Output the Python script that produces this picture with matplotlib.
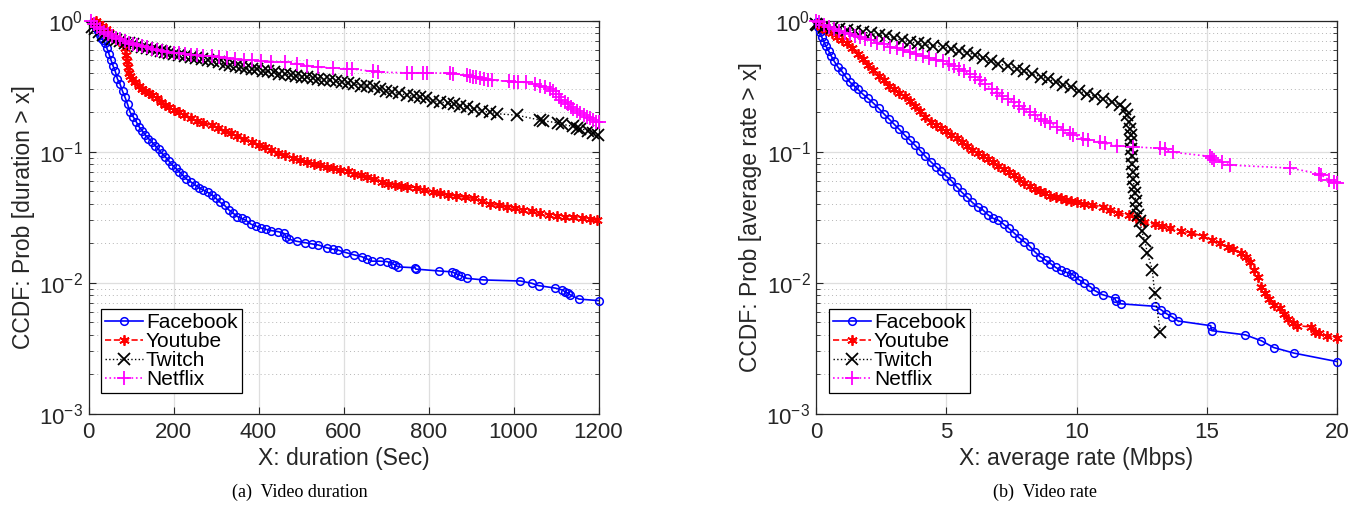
import matplotlib
matplotlib.use("Agg")
import matplotlib.pyplot as plt
from matplotlib.ticker import LogLocator, FixedLocator

plt.rcParams['font.family'] = ['Liberation Sans', 'DejaVu Sans']
plt.rcParams['mathtext.fontset'] = 'custom'
plt.rcParams['mathtext.rm'] = 'Liberation Sans'
plt.rcParams['mathtext.it'] = 'Liberation Sans:italic'
plt.rcParams['mathtext.bf'] = 'Liberation Sans:bold'

# ---------------- data: (a) video duration ----------------
dur_fb_x = [10, 14, 18, 22, 26, 30, 34, 38, 43, 48, 53, 58, 63, 68, 74, 80, 86, 92, 98, 105, 112, 119, 126, 133,
            141, 149, 157, 165, 173, 181, 189, 197, 205, 214, 222, 230, 240, 250, 260, 270, 280, 290, 300, 310,
            320, 330, 340, 350, 360, 370, 382, 395, 405, 418, 430, 447, 460, 465, 471, 490, 510, 525, 541, 560,
            575, 588, 605, 625, 643, 655, 667, 685, 702, 715, 722, 729, 769, 770, 824, 855, 863, 870, 877, 890,
            929, 1016, 1043, 1059, 1098, 1115, 1122, 1128, 1133, 1154, 1200]
dur_fb_p = [0.97, 0.93, 0.88, 0.83, 0.78, 0.74, 0.71, 0.68, 0.62, 0.56, 0.50, 0.45, 0.41, 0.36, 0.33, 0.29, 0.26,
            0.23, 0.20, 0.185, 0.170, 0.155, 0.145, 0.135, 0.126, 0.119, 0.111, 0.104, 0.097, 0.091, 0.085, 0.079,
            0.075, 0.070, 0.066, 0.062, 0.059, 0.056, 0.053, 0.051, 0.049, 0.047, 0.044, 0.041, 0.039, 0.036,
            0.034, 0.032, 0.031, 0.030, 0.028, 0.027, 0.0262, 0.0255, 0.0250, 0.0245, 0.0238, 0.0225, 0.0215,
            0.0207, 0.0202, 0.0198, 0.0194, 0.0185, 0.0180, 0.0177, 0.0170, 0.0163, 0.0158, 0.0152, 0.0146,
            0.0146, 0.0145, 0.0140, 0.0136, 0.0132, 0.0130, 0.0127, 0.0123, 0.0121, 0.0118, 0.0115, 0.0113,
            0.0108, 0.0105, 0.0103, 0.0099, 0.0095, 0.0091, 0.0088, 0.0085, 0.0083, 0.0081, 0.0075, 0.0073]

dur_yt_x = [18, 25, 32, 40, 48, 56, 64, 72, 80, 86, 88, 90, 92, 95, 98, 102, 110, 118, 126, 134, 142, 150, 160,
            170, 180, 190, 200, 212, 225, 240, 255, 270, 290, 305, 320, 335, 350, 367, 384, 400, 415, 430, 447,
            463, 480, 497, 515, 530, 545, 560, 575, 592, 610, 625, 640, 655, 671, 690, 705, 720, 735, 750, 770,
            790, 810, 827, 845, 865, 885, 906, 925, 945, 965, 984, 1003, 1023, 1043, 1063, 1083, 1103, 1122,
            1141, 1160, 1180, 1196]
dur_yt_p = [1.0, 0.95, 0.91, 0.87, 0.82, 0.78, 0.74, 0.70, 0.67, 0.62, 0.55, 0.49, 0.44, 0.40, 0.38, 0.36, 0.34,
            0.32, 0.30, 0.29, 0.28, 0.27, 0.255, 0.24, 0.228, 0.218, 0.208, 0.20, 0.19, 0.18, 0.172, 0.166, 0.16,
            0.152, 0.145, 0.138, 0.131, 0.125, 0.119, 0.113, 0.108, 0.103, 0.098, 0.094, 0.090, 0.086, 0.083,
            0.080, 0.079, 0.077, 0.075, 0.073, 0.071, 0.068, 0.066, 0.064, 0.062, 0.059, 0.057, 0.056, 0.055,
            0.054, 0.053, 0.051, 0.049, 0.048, 0.047, 0.046, 0.045, 0.044, 0.042, 0.040, 0.039, 0.038, 0.037,
            0.036, 0.035, 0.034, 0.033, 0.0325, 0.032, 0.032, 0.031, 0.0305, 0.030]

dur_tw_x = [8, 15, 25, 35, 45, 55, 65, 75, 85, 95, 105, 115, 125, 137, 149, 160, 170, 180, 190, 200, 213, 227,
            240, 253, 266, 280, 293, 306, 320, 333, 346, 358, 371, 384, 397, 410, 423, 436, 449, 463, 476, 489,
            502, 515, 528, 541, 555, 568, 582, 596, 610, 625, 640, 655, 671, 685, 700, 715, 730, 749, 765, 780,
            795, 810, 827, 845, 860, 875, 890, 906, 925, 945, 961, 1008, 1063, 1070, 1105, 1115, 1140, 1150,
            1157, 1175, 1188, 1198]
dur_tw_p = [0.90, 0.86, 0.82, 0.78, 0.75, 0.73, 0.71, 0.70, 0.68, 0.67, 0.66, 0.645, 0.635, 0.62, 0.61, 0.60,
            0.59, 0.58, 0.57, 0.56, 0.55, 0.54, 0.53, 0.52, 0.51, 0.50, 0.49, 0.48, 0.47, 0.46, 0.45, 0.44,
            0.435, 0.43, 0.425, 0.415, 0.41, 0.405, 0.395, 0.39, 0.385, 0.38, 0.375, 0.37, 0.365, 0.36, 0.355,
            0.35, 0.345, 0.34, 0.335, 0.33, 0.32, 0.315, 0.31, 0.30, 0.29, 0.285, 0.28, 0.27, 0.265, 0.26,
            0.255, 0.245, 0.24, 0.235, 0.23, 0.225, 0.22, 0.213, 0.205, 0.20, 0.195, 0.19, 0.174, 0.172, 0.166,
            0.162, 0.156, 0.152, 0.150, 0.145, 0.138, 0.135]

dur_nf_x = [5, 12, 20, 28, 36, 45, 55, 65, 75, 85, 95, 105, 115, 125, 137, 149, 160, 172, 185, 200, 213, 227,
            240, 255, 270, 290, 306, 325, 345, 365, 384, 405, 430, 463, 490, 515, 541, 575, 608, 620, 670, 682,
            750, 760, 787, 797, 850, 858, 890, 897, 905, 912, 920, 930, 940, 950, 990, 1000, 1010, 1030, 1050,
            1063, 1075, 1086, 1094, 1100, 1106, 1112, 1120, 1128, 1135, 1141, 1150, 1157, 1165, 1173, 1180,
            1188, 1195, 1200]
dur_nf_p = [1.0, 0.95, 0.90, 0.86, 0.82, 0.79, 0.76, 0.74, 0.72, 0.70, 0.68, 0.665, 0.65, 0.64, 0.625, 0.61,
            0.60, 0.59, 0.58, 0.57, 0.565, 0.56, 0.55, 0.545, 0.54, 0.535, 0.527, 0.52, 0.51, 0.505, 0.497,
            0.49, 0.487, 0.483, 0.47, 0.455, 0.442, 0.435, 0.43, 0.428, 0.41, 0.405, 0.40, 0.40, 0.40, 0.40,
            0.397, 0.394, 0.385, 0.38, 0.375, 0.37, 0.365, 0.36, 0.355, 0.35, 0.345, 0.342, 0.34, 0.338, 0.33,
            0.32, 0.31, 0.30, 0.29, 0.275, 0.26, 0.25, 0.24, 0.23, 0.22, 0.213, 0.205, 0.198, 0.19, 0.185,
            0.18, 0.175, 0.17, 0.168]

# ---------------- data: (b) video rate ----------------
rate_fb_x = [0.02, 0.08, 0.15, 0.22, 0.30, 0.38, 0.48, 0.58, 0.70, 0.85, 1.00, 1.15, 1.30, 1.45, 1.60, 1.80,
             2.00, 2.20, 2.40, 2.60, 2.80, 3.00, 3.20, 3.40, 3.60, 3.80, 4.00, 4.20, 4.40, 4.60, 4.80, 5.00,
             5.20, 5.40, 5.60, 5.80, 6.00, 6.20, 6.40, 6.60, 6.80, 7.00, 7.20, 7.40, 7.60, 7.80, 8.00, 8.20,
             8.40, 8.60, 8.81, 9.00, 9.20, 9.40, 9.60, 9.80, 9.91, 10.10, 10.30, 10.53, 10.70, 11.00, 11.47,
             11.50, 11.70, 13.03, 13.25, 13.45, 13.66, 13.90, 15.15, 15.20, 16.48, 17.10, 17.57, 18.35, 20.00]
rate_fb_p = [0.97, 0.90, 0.82, 0.75, 0.69, 0.64, 0.59, 0.54, 0.49, 0.44, 0.41, 0.37, 0.34, 0.32, 0.30, 0.275,
             0.255, 0.235, 0.215, 0.195, 0.178, 0.162, 0.148, 0.134, 0.123, 0.112, 0.102, 0.092, 0.084, 0.077,
             0.071, 0.065, 0.060, 0.054, 0.049, 0.045, 0.041, 0.038, 0.036, 0.033, 0.031, 0.030, 0.028, 0.026,
             0.024, 0.022, 0.0205, 0.019, 0.0172, 0.0158, 0.0149, 0.0140, 0.0131, 0.0124, 0.0120, 0.0117,
             0.0113, 0.0105, 0.0099, 0.0093, 0.0087, 0.0081, 0.0076, 0.0073, 0.0069, 0.0066, 0.0062, 0.0058,
             0.0055, 0.0051, 0.0047, 0.0043, 0.0040, 0.0036, 0.0032, 0.0029, 0.0025]

rate_yt_x = [0.02, 0.2, 0.4, 0.6, 0.8, 1.0, 1.2, 1.4, 1.6, 1.8, 2.0, 2.2, 2.4, 2.6, 2.8, 3.0, 3.2, 3.4, 3.6,
             3.8, 4.0, 4.2, 4.4, 4.6, 4.8, 5.0, 5.2, 5.4, 5.6, 5.8, 6.0, 6.2, 6.4, 6.6, 6.8, 7.0, 7.2, 7.4,
             7.6, 7.8, 8.0, 8.2, 8.4, 8.6, 8.8, 9.0, 9.2, 9.4, 9.6, 9.8, 10.0, 10.3, 10.6, 11.0, 11.3, 11.6,
             12.0, 12.3, 12.6, 13.0, 13.3, 13.6, 14.0, 14.4, 14.87, 15.2, 15.5, 15.8, 16.0, 16.3, 16.5, 16.65,
             16.8, 16.95, 17.1, 17.25, 17.4, 17.6, 17.8, 17.95, 18.1, 18.3, 18.45, 19.0, 19.15, 19.3, 19.6, 20.0]
rate_yt_p = [0.95, 0.90, 0.85, 0.80, 0.75, 0.71, 0.67, 0.62, 0.56, 0.51, 0.46, 0.42, 0.38, 0.35, 0.32, 0.30,
             0.28, 0.265, 0.245, 0.225, 0.205, 0.185, 0.17, 0.16, 0.152, 0.145, 0.135, 0.127, 0.119, 0.111,
             0.103, 0.097, 0.093, 0.088, 0.083, 0.078, 0.074, 0.070, 0.066, 0.062, 0.058, 0.055, 0.052, 0.050,
             0.048, 0.046, 0.045, 0.044, 0.043, 0.042, 0.041, 0.040, 0.039, 0.038, 0.036, 0.034, 0.033, 0.031,
             0.029, 0.028, 0.027, 0.026, 0.025, 0.024, 0.0226, 0.021, 0.020, 0.0188, 0.0182, 0.017, 0.0158,
             0.0145, 0.0125, 0.011, 0.0093, 0.0083, 0.0075, 0.0068, 0.0064, 0.0058, 0.0053, 0.0049, 0.0047,
             0.0046, 0.0042, 0.0041, 0.0039, 0.0038]

rate_tw_x = [0.0, 0.05, 0.3, 0.6, 0.9, 1.2, 1.5, 1.8, 2.1, 2.4, 2.7, 3.0, 3.3, 3.6, 3.9, 4.2, 4.5, 4.86, 5.2,
             5.5, 5.8, 6.12, 6.4, 6.7, 7.0, 7.37, 7.7, 8.0, 8.3, 8.62, 8.9, 9.2, 9.5, 9.8, 10.1, 10.4, 10.7,
             11.03, 11.35, 11.67, 11.85, 11.95, 12.02, 12.06, 12.08, 12.1, 12.1, 12.12, 12.14, 12.16, 12.18,
             12.21, 12.24, 12.27, 12.3, 12.37, 12.44, 12.5, 12.63, 12.72, 12.91, 13.0, 13.22]
rate_tw_p = [0.95, 0.92, 0.90, 0.885, 0.87, 0.855, 0.84, 0.82, 0.80, 0.78, 0.76, 0.735, 0.71, 0.69, 0.67,
             0.66, 0.645, 0.63, 0.61, 0.59, 0.57, 0.55, 0.52, 0.49, 0.47, 0.45, 0.43, 0.41, 0.39, 0.375, 0.36,
             0.34, 0.325, 0.31, 0.29, 0.277, 0.265, 0.254, 0.24, 0.226, 0.21, 0.19, 0.17, 0.15, 0.135, 0.12,
             0.105, 0.092, 0.08, 0.07, 0.062, 0.054, 0.048, 0.042, 0.037, 0.033, 0.0295, 0.0247, 0.0207,
             0.0168, 0.0125, 0.0083, 0.0042]

rate_nf_x = [0.0, 0.1, 0.3, 0.5, 0.7, 0.9, 1.1, 1.3, 1.5, 1.7, 1.9, 2.1, 2.36, 2.6, 2.85, 3.1, 3.35, 3.6,
             3.85, 4.1, 4.35, 4.6, 4.86, 5.1, 5.3, 5.49, 5.7, 5.9, 6.12, 6.3, 6.5, 6.74, 6.95, 7.15, 7.37, 7.6,
             7.8, 8.0, 8.2, 8.4, 8.62, 8.8, 9.0, 9.25, 9.5, 9.74, 9.87, 10.26, 10.45, 10.9, 11.1, 11.54, 12.18,
             13.2, 13.4, 13.72, 15.13, 15.2, 15.26, 15.6, 15.9, 18.2, 19.3, 19.4, 19.7, 19.87, 20.0]
rate_nf_p = [1.0, 0.97, 0.93, 0.89, 0.86, 0.83, 0.81, 0.79, 0.77, 0.75, 0.73, 0.71, 0.68, 0.66, 0.635, 0.615,
             0.595, 0.575, 0.555, 0.535, 0.52, 0.505, 0.495, 0.47, 0.45, 0.43, 0.41, 0.39, 0.37, 0.35, 0.33,
             0.30, 0.28, 0.265, 0.254, 0.24, 0.225, 0.213, 0.20, 0.19, 0.179, 0.172, 0.165, 0.155, 0.147,
             0.138, 0.135, 0.126, 0.123, 0.119, 0.116, 0.111, 0.109, 0.106, 0.104, 0.099, 0.092, 0.090, 0.087,
             0.083, 0.079, 0.075, 0.068, 0.066, 0.061, 0.059, 0.058]

labels = ["Facebook", "Youtube", "Twitch", "Netflix"]
dur_xticks = [0, 200, 400, 600, 800, 1000, 1200]
rate_xticks = [0, 5, 10, 15, 20]

# ---------------- styling ----------------
W, H = 1359, 508
fig = plt.figure(figsize=(W / 100, H / 100), dpi=100)

ax_col = '#262626'
styles = [
    dict(color=(0, 0, 1), ls='-', marker='o', ms=5.5, mfc='none', mew=1.1, lw=1.2),
    dict(color=(1, 0, 0), ls='--', marker=(6, 2, 0), ms=7.5, mew=1.3, lw=1.2),
    dict(color='black', ls=':', marker='x', ms=8, mew=1.3, lw=1.0),
    dict(color=(1, 0, 1), ls=':', marker='+', ms=10, mew=1.3, lw=1.2),
]

TICK_FS = 16
LABEL_FS = 16.5
LEG_FS = 15


def setup(ax, xlim, xticks, xlabel, ylabel):
    ax.set_yscale('log')
    ax.set_xlim(*xlim)
    ax.set_ylim(1e-3, 1)
    ax.xaxis.set_major_locator(FixedLocator(xticks))
    ax.yaxis.set_major_locator(LogLocator(base=10, numticks=10))
    ax.yaxis.set_minor_locator(LogLocator(base=10, subs=range(2, 10), numticks=20))
    ax.grid(True, which='major', axis='both', color='#dedede', lw=0.9, ls='-')
    ax.grid(True, which='minor', axis='y', color='#b5b5b5', lw=0.7, ls=(0, (1, 3)))
    ax.set_axisbelow(True)
    ax.tick_params(which='both', direction='in', top=True, right=True, colors=ax_col,
                   labelsize=TICK_FS, labelcolor=ax_col)
    ax.tick_params(which='major', length=5, width=0.8)
    ax.tick_params(axis='x', which='major', pad=6)
    ax.tick_params(axis='y', which='major', pad=4)
    ax.tick_params(which='minor', length=3, width=0.6)
    ax.tick_params(axis='x', which='minor', bottom=False, top=False)
    for s in ax.spines.values():
        s.set_color(ax_col)
        s.set_linewidth(0.9)
    ax.set_xlabel(xlabel, fontsize=LABEL_FS, color=ax_col, labelpad=3)
    ax.set_ylabel(ylabel, fontsize=LABEL_FS, color=ax_col, labelpad=3)


axL = fig.add_axes([88.5 / W, (H - 413.7) / H, 510 / W, 393 / H])
axR = fig.add_axes([816 / W, (H - 413.7) / H, 521 / W, 393 / H])

dur_series = [(dur_fb_x, dur_fb_p), (dur_yt_x, dur_yt_p), (dur_tw_x, dur_tw_p), (dur_nf_x, dur_nf_p)]
rate_series = [(rate_fb_x, rate_fb_p), (rate_yt_x, rate_yt_p), (rate_tw_x, rate_tw_p), (rate_nf_x, rate_nf_p)]

for ax, series in ((axL, dur_series), (axR, rate_series)):
    for (x, p), st, lab in zip(series, styles, labels):
        ax.plot(x, p, label=lab, clip_on=False, zorder=3, **st)

setup(axL, (0, 1200), dur_xticks, 'X: duration (Sec)', 'CCDF: Prob [duration > x]')
setup(axR, (0, 20), rate_xticks, 'X: average rate (Mbps)', 'CCDF: Prob [average rate > x]')

for ax, bx in ((axL, (101 - 88.5) / 510), (axR, (829 - 816) / 521)):
    leg = ax.legend(loc='lower left', bbox_to_anchor=(bx, (413.7 - 393) / 393), borderaxespad=0,
                    fontsize=LEG_FS, frameon=True, fancybox=False, framealpha=1, edgecolor='black',
                    handlelength=1.8, handletextpad=0.15, labelspacing=0.0, borderpad=0.2,
                    numpoints=1)
    leg.get_frame().set_linewidth(0.9)
    for t in leg.get_texts():
        t.set_color('black')

fig.text(300 / W, 1 - 492 / H, '(a)  Video duration', ha='center', va='center',
         fontsize=13, family='Liberation Serif')
fig.text(1045 / W, 1 - 492 / H, '(b)  Video rate', ha='center', va='center',
         fontsize=13, family='Liberation Serif')

fig.savefig('out.png', dpi=100)
